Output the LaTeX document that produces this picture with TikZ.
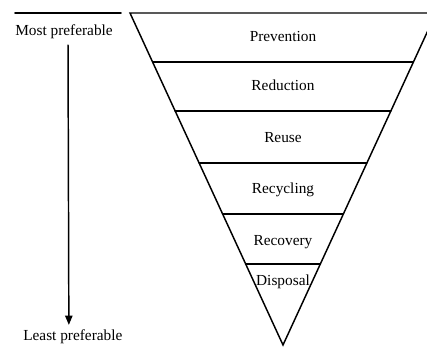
\documentclass[tikz,border=0pt]{standalone}
\usepackage{fontspec}
\setmainfont{Liberation Serif}
\usetikzlibrary{arrows.meta,calc}

\tikzset{
  etiqueta/.style={font=\fontsize{11.5}{13}\selectfont, inner sep=2pt},
  borde/.style={line width=1.1pt, line join=miter},
  pref/.style={-{Triangle[length=7pt, width=5.5pt]}, line width=1.1pt}
}

\begin{document}
\begin{tikzpicture}[x=0.75pt, y=-0.75pt, line cap=round]
    \useasboundingbox (0,0) rectangle (427,347);
    \clip (0,0) rectangle (427,347);
    % --- vertices del triangulo invertido
    \coordinate (tl)   at (130,13);
    \coordinate (tr)   at (436,13);
    \coordinate (apex) at (283,345);
    \draw[borde] (tl) -- (tr) -- (apex) -- cycle;
    % --- divisiones entre niveles
    \foreach \yy in {62,111,163,214,264} {
      \pgfmathsetmacro{\tt}{(\yy-13)/332}
      \draw[borde] ($(tl)!\tt!(apex)$) -- ($(tr)!\tt!(apex)$);
    }
    % --- rotulos de cada nivel
    \foreach \nm/\yb/\txt in {prev/41/Prevention, redu/90/Reduction,
                              reuse/142/Reuse, recyc/193/Recycling,
                              recov/245/Recovery, disp/285/Disposal}
      \node[etiqueta, anchor=base] (\nm) at (283,\yb) {\txt};
    % --- escala de preferencia a la izquierda
    \coordinate (raya0) at (15,13);
    \coordinate (raya1) at (121,13);
    \draw[line width=1.4pt] (raya0) -- (raya1);
    \node[etiqueta, anchor=base west, inner sep=0pt] (most) at (15,35)
         {Most preferable};
    \node[etiqueta, anchor=base west, inner sep=0pt] (least) at (23,340)
         {Least preferable};
    \draw[pref] ([xshift=3pt, yshift=-5pt]most.south)
         -- ([xshift=-3pt, yshift=3pt]least.north);
  \end{tikzpicture}
\end{document}
